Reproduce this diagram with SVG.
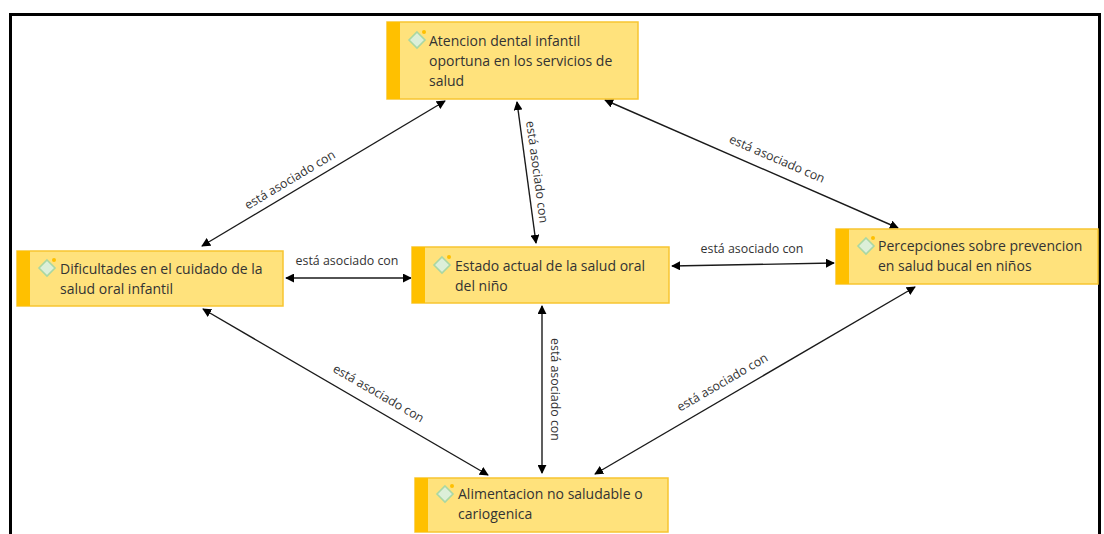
<svg xmlns="http://www.w3.org/2000/svg" width="1104" height="534" viewBox="0 0 1104 534">
<defs>
<marker id="arr" viewBox="0 0 10 10" refX="9" refY="5" markerWidth="9" markerHeight="9" markerUnits="userSpaceOnUse" orient="auto-start-reverse">
<path d="M0,0 L10,5 L0,10 z" fill="#000"/>
</marker>
<g id="ico">
<path d="M0,-8 L8,0 L0,8 L-8,0 z" fill="#dcefd9" stroke="#a9d7a3" stroke-width="1.6"/>
<circle cx="7" cy="-8" r="2" fill="#FFC000"/>
</g>
</defs>
<style>
.box{fill:#FFE27C;stroke:#F7C531;stroke-width:1.5}
.strip{fill:#FFC000}
.nt{font-family:"Open Sans","Noto Sans",sans-serif;font-size:14px;fill:#333}
.lb{font-family:"Open Sans","Noto Sans",sans-serif;font-size:12.4px;fill:#333;text-anchor:middle}
.ln{stroke:#1a1a1a;stroke-width:1.4;fill:none;marker-start:url(#arr);marker-end:url(#arr)}
</style>
<rect width="1104" height="534" fill="#fff"/>
<path d="M10.5,534 V14.5 H1099.5 V534" fill="none" stroke="#000" stroke-width="3"/>

<g id="connectors">
<line class="ln" x1="445" y1="101" x2="202" y2="246"/>
<line class="ln" x1="517" y1="102" x2="536" y2="243"/>
<line class="ln" x1="605" y1="100" x2="898" y2="228"/>
<line class="ln" x1="286" y1="278" x2="411" y2="278"/>
<line class="ln" x1="672" y1="266" x2="834" y2="263"/>
<line class="ln" x1="203" y1="309" x2="488" y2="475"/>
<line class="ln" x1="542" y1="306" x2="542" y2="473"/>
<line class="ln" x1="915" y1="287" x2="595" y2="474"/>
<text class="lb" transform="translate(292,183.4) rotate(-30.8)">está asociado con</text>
<text class="lb" transform="translate(533,172.5) rotate(82.3)">está asociado con</text>
<text class="lb" transform="translate(775.4,162.7) rotate(23.4)">está asociado con</text>
<text class="lb" x="347" y="265">está asociado con</text>
<text class="lb" x="752" y="253">está asociado con</text>
<text class="lb" transform="translate(376.5,397) rotate(30.2)">está asociado con</text>
<text class="lb" transform="translate(551,389.5) rotate(90)">está asociado con</text>
<text class="lb" transform="translate(724.5,386) rotate(-30.2)">está asociado con</text>
</g>

<g id="n-atencion">
<rect class="box" x="387" y="22" width="251" height="77"/>
<rect class="strip" x="387" y="22" width="13" height="77"/>
<use href="#ico" x="417" y="40"/>
<text class="nt" x="429"><tspan x="429" y="46">Atencion dental infantil</tspan><tspan x="429" y="66">oportuna en los servicios de</tspan><tspan x="429" y="86">salud</tspan></text>
</g>

<g id="n-dificultades">
<rect class="box" x="17" y="251" width="266" height="55"/>
<rect class="strip" x="17" y="251" width="13" height="55"/>
<use href="#ico" x="47" y="268"/>
<text class="nt"><tspan x="60" y="274">Dificultades en el cuidado de la</tspan><tspan x="60" y="294">salud oral infantil</tspan></text>
</g>

<g id="n-estado">
<rect class="box" x="412" y="247" width="257" height="56"/>
<rect class="strip" x="412" y="247" width="13" height="56"/>
<use href="#ico" x="442" y="265"/>
<text class="nt"><tspan x="455" y="271">Estado actual de la salud oral</tspan><tspan x="455" y="291">del niño</tspan></text>
</g>

<g id="n-percepciones">
<rect class="box" x="836" y="229" width="262" height="55"/>
<rect class="strip" x="836" y="229" width="13" height="55"/>
<use href="#ico" x="866" y="246"/>
<text class="nt"><tspan x="878" y="251">Percepciones sobre prevencion</tspan><tspan x="878" y="271">en salud bucal en niños</tspan></text>
</g>

<g id="n-alimentacion">
<rect class="box" x="415" y="478" width="253" height="54"/>
<rect class="strip" x="415" y="478" width="13" height="54"/>
<use href="#ico" x="445" y="494"/>
<text class="nt"><tspan x="458" y="499">Alimentacion no saludable o</tspan><tspan x="458" y="519">cariogenica</tspan></text>
</g>
</svg>
